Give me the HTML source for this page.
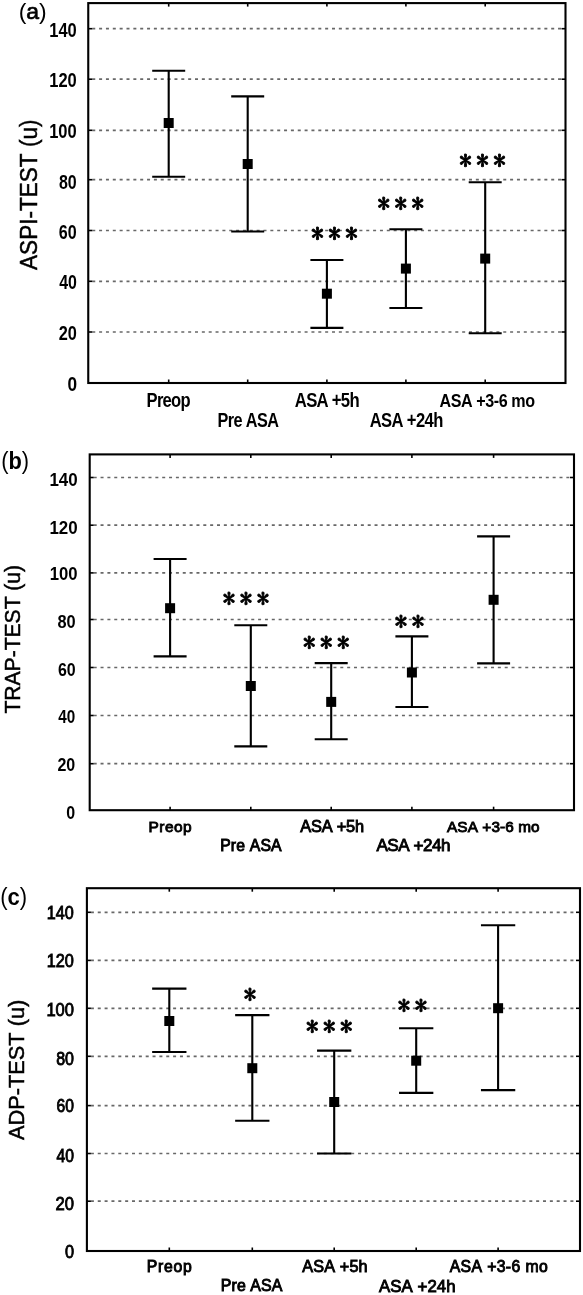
<!DOCTYPE html>
<html><head><meta charset="utf-8"><title>Figure</title><style>
*{margin:0;padding:0}
html,body{width:583px;height:1295px;background:#fff;overflow:hidden}
svg{display:block}
.gr{stroke:#686868;stroke-width:1.7;stroke-dasharray:3 3.85}
.tk{stroke:#000;stroke-width:1.6}
.fr{fill:none;stroke:#000;stroke-width:2.1}
.eb{fill:none;stroke:#000;stroke-width:2.1}
.tx text{font-family:"Liberation Sans",sans-serif;fill:#000;font-kerning:none}
.md{stroke:#000;stroke-width:0.9}
.yl{stroke:#000;stroke-width:0.5}
.as{font-family:"IPAGothic",sans-serif;font-size:25px;fill:#000;stroke:#000;stroke-width:0.9;stroke-linejoin:round}
</style></head><body>
<svg width="583" height="1295" viewBox="0 0 583 1295">
<rect width="583" height="1295" fill="#fff"/>
<g><line x1="92.25" y1="28.70" x2="561.50" y2="28.70" class="gr"/><line x1="88.25" y1="28.70" x2="92.25" y2="28.70" class="tk"/><line x1="561.50" y1="28.70" x2="565.50" y2="28.70" class="tk"/><line x1="92.25" y1="79.20" x2="561.50" y2="79.20" class="gr"/><line x1="88.25" y1="79.20" x2="92.25" y2="79.20" class="tk"/><line x1="561.50" y1="79.20" x2="565.50" y2="79.20" class="tk"/><line x1="92.25" y1="130.30" x2="561.50" y2="130.30" class="gr"/><line x1="88.25" y1="130.30" x2="92.25" y2="130.30" class="tk"/><line x1="561.50" y1="130.30" x2="565.50" y2="130.30" class="tk"/><line x1="92.25" y1="179.70" x2="561.50" y2="179.70" class="gr"/><line x1="88.25" y1="179.70" x2="92.25" y2="179.70" class="tk"/><line x1="561.50" y1="179.70" x2="565.50" y2="179.70" class="tk"/><line x1="92.25" y1="230.50" x2="561.50" y2="230.50" class="gr"/><line x1="88.25" y1="230.50" x2="92.25" y2="230.50" class="tk"/><line x1="561.50" y1="230.50" x2="565.50" y2="230.50" class="tk"/><line x1="92.25" y1="281.30" x2="561.50" y2="281.30" class="gr"/><line x1="88.25" y1="281.30" x2="92.25" y2="281.30" class="tk"/><line x1="561.50" y1="281.30" x2="565.50" y2="281.30" class="tk"/><line x1="92.25" y1="332.00" x2="561.50" y2="332.00" class="gr"/><line x1="88.25" y1="332.00" x2="92.25" y2="332.00" class="tk"/><line x1="561.50" y1="332.00" x2="565.50" y2="332.00" class="tk"/><line x1="168.70" y1="3.10" x2="168.70" y2="6.60" class="tk"/><line x1="168.70" y1="383.00" x2="168.70" y2="379.50" class="tk"/><line x1="247.70" y1="3.10" x2="247.70" y2="6.60" class="tk"/><line x1="247.70" y1="383.00" x2="247.70" y2="379.50" class="tk"/><line x1="326.90" y1="3.10" x2="326.90" y2="6.60" class="tk"/><line x1="326.90" y1="383.00" x2="326.90" y2="379.50" class="tk"/><line x1="405.90" y1="3.10" x2="405.90" y2="6.60" class="tk"/><line x1="405.90" y1="383.00" x2="405.90" y2="379.50" class="tk"/><line x1="485.20" y1="3.10" x2="485.20" y2="6.60" class="tk"/><line x1="485.20" y1="383.00" x2="485.20" y2="379.50" class="tk"/><rect x="88.25" y="3.10" width="477.25" height="379.90" class="fr"/><path d="M168.70 70.80V176.70M152.20 70.80H185.20M152.20 176.70H185.20" class="eb"/><rect x="163.70" y="118.00" width="10.00" height="10.00"/><path d="M247.70 96.40V231.50M231.20 96.40H264.20M231.20 231.50H264.20" class="eb"/><rect x="242.70" y="159.00" width="10.00" height="10.00"/><path d="M326.90 260.00V327.90M310.40 260.00H343.40M310.40 327.90H343.40" class="eb"/><rect x="321.90" y="288.70" width="10.00" height="10.00"/><path d="M405.90 229.20V308.00M389.40 229.20H422.40M389.40 308.00H422.40" class="eb"/><rect x="400.90" y="263.60" width="10.00" height="10.00"/><path d="M485.20 182.30V333.20M468.70 182.30H501.70M468.70 333.20H501.70" class="eb"/><rect x="480.20" y="253.60" width="10.00" height="10.00"/></g>
<g class="tx"><text x="67.52" y="391.10" font-size="20.35" textLength="9.59" lengthAdjust="spacingAndGlyphs" font-weight="bold">0</text><text x="58.73" y="340.30" font-size="20.35" textLength="18.13" lengthAdjust="spacingAndGlyphs" font-weight="bold">20</text><text x="59.26" y="289.10" font-size="20.35" textLength="17.69" lengthAdjust="spacingAndGlyphs" font-weight="bold">40</text><text x="58.81" y="239.20" font-size="20.35" textLength="17.85" lengthAdjust="spacingAndGlyphs" font-weight="bold">60</text><text x="58.89" y="189.00" font-size="20.35" textLength="17.76" lengthAdjust="spacingAndGlyphs" font-weight="bold">80</text><text x="49.16" y="138.10" font-size="20.35" textLength="27.52" lengthAdjust="spacingAndGlyphs" font-weight="bold">100</text><text x="49.26" y="87.30" font-size="20.35" textLength="27.52" lengthAdjust="spacingAndGlyphs" font-weight="bold">120</text><text x="49.26" y="37.20" font-size="20.35" textLength="27.52" lengthAdjust="spacingAndGlyphs" font-weight="bold">140</text><text transform="scale(0.8400 1)" x="174.51" y="407.30" font-size="19.77" textLength="52.37" lengthAdjust="spacing" font-weight="bold">Preop</text><text transform="scale(0.8400 1)" x="258.83" y="426.80" font-size="19.33" textLength="73.35" lengthAdjust="spacing" font-weight="bold">Pre ASA</text><text transform="scale(0.8400 1)" x="350.93" y="407.20" font-size="19.91" textLength="77.21" lengthAdjust="spacing" font-weight="bold">ASA +5h</text><text transform="scale(0.8400 1)" x="440.10" y="426.70" font-size="19.77" textLength="87.67" lengthAdjust="spacing" font-weight="bold">ASA +24h</text><text transform="scale(0.8400 1)" x="523.33" y="407.50" font-size="19.19" textLength="113.73" lengthAdjust="spacing" font-weight="bold">ASA +3-6 mo</text><text transform="translate(37.25 269.94) rotate(-90)" x="0" y="0" font-size="24.64" textLength="150.44" lengthAdjust="spacingAndGlyphs" class="yl">ASPI-TEST (u)</text><text x="18.68" y="18.60" font-size="22.80" textLength="28.05" lengthAdjust="spacingAndGlyphs">(<tspan stroke="#000" stroke-width="0.7">a</tspan>)</text></g>
<g><text x="317.55 334.55 351.55" y="242.65" class="as" text-anchor="middle">***</text><text x="383.70 400.70 417.70" y="213.35" class="as" text-anchor="middle">***</text><text x="465.60 482.60 499.60" y="169.95" class="as" text-anchor="middle">***</text></g>
<g><line x1="93.70" y1="477.50" x2="570.00" y2="477.50" class="gr"/><line x1="89.70" y1="477.50" x2="93.70" y2="477.50" class="tk"/><line x1="570.00" y1="477.50" x2="574.00" y2="477.50" class="tk"/><line x1="93.70" y1="525.20" x2="570.00" y2="525.20" class="gr"/><line x1="89.70" y1="525.20" x2="93.70" y2="525.20" class="tk"/><line x1="570.00" y1="525.20" x2="574.00" y2="525.20" class="tk"/><line x1="93.70" y1="572.90" x2="570.00" y2="572.90" class="gr"/><line x1="89.70" y1="572.90" x2="93.70" y2="572.90" class="tk"/><line x1="570.00" y1="572.90" x2="574.00" y2="572.90" class="tk"/><line x1="93.70" y1="619.50" x2="570.00" y2="619.50" class="gr"/><line x1="89.70" y1="619.50" x2="93.70" y2="619.50" class="tk"/><line x1="570.00" y1="619.50" x2="574.00" y2="619.50" class="tk"/><line x1="93.70" y1="667.50" x2="570.00" y2="667.50" class="gr"/><line x1="89.70" y1="667.50" x2="93.70" y2="667.50" class="tk"/><line x1="570.00" y1="667.50" x2="574.00" y2="667.50" class="tk"/><line x1="93.70" y1="715.50" x2="570.00" y2="715.50" class="gr"/><line x1="89.70" y1="715.50" x2="93.70" y2="715.50" class="tk"/><line x1="570.00" y1="715.50" x2="574.00" y2="715.50" class="tk"/><line x1="93.70" y1="763.70" x2="570.00" y2="763.70" class="gr"/><line x1="89.70" y1="763.70" x2="93.70" y2="763.70" class="tk"/><line x1="570.00" y1="763.70" x2="574.00" y2="763.70" class="tk"/><line x1="170.10" y1="454.40" x2="170.10" y2="457.90" class="tk"/><line x1="170.10" y1="810.20" x2="170.10" y2="806.70" class="tk"/><line x1="250.80" y1="454.40" x2="250.80" y2="457.90" class="tk"/><line x1="250.80" y1="810.20" x2="250.80" y2="806.70" class="tk"/><line x1="331.20" y1="454.40" x2="331.20" y2="457.90" class="tk"/><line x1="331.20" y1="810.20" x2="331.20" y2="806.70" class="tk"/><line x1="411.90" y1="454.40" x2="411.90" y2="457.90" class="tk"/><line x1="411.90" y1="810.20" x2="411.90" y2="806.70" class="tk"/><line x1="493.60" y1="454.40" x2="493.60" y2="457.90" class="tk"/><line x1="493.60" y1="810.20" x2="493.60" y2="806.70" class="tk"/><rect x="89.70" y="454.40" width="484.30" height="355.80" class="fr"/><path d="M170.10 559.00V656.40M153.60 559.00H186.60M153.60 656.40H186.60" class="eb"/><rect x="165.10" y="603.20" width="10.00" height="10.00"/><path d="M250.80 625.20V746.40M234.30 625.20H267.30M234.30 746.40H267.30" class="eb"/><rect x="245.80" y="681.00" width="10.00" height="10.00"/><path d="M331.20 663.10V739.30M314.70 663.10H347.70M314.70 739.30H347.70" class="eb"/><rect x="326.20" y="696.90" width="10.00" height="10.00"/><path d="M411.90 636.40V707.00M395.40 636.40H428.40M395.40 707.00H428.40" class="eb"/><rect x="406.90" y="667.50" width="10.00" height="10.00"/><path d="M493.60 536.40V663.40M477.10 536.40H510.10M477.10 663.40H510.10" class="eb"/><rect x="488.60" y="594.80" width="10.00" height="10.00"/></g>
<g class="tx"><text x="66.37" y="818.70" font-size="18.90" textLength="8.89" lengthAdjust="spacingAndGlyphs" font-weight="bold">0</text><text x="57.44" y="770.80" font-size="18.90" textLength="17.81" lengthAdjust="spacingAndGlyphs" font-weight="bold">20</text><text x="58.27" y="722.50" font-size="18.90" textLength="16.96" lengthAdjust="spacingAndGlyphs" font-weight="bold">40</text><text x="57.92" y="676.20" font-size="18.90" textLength="17.74" lengthAdjust="spacingAndGlyphs" font-weight="bold">60</text><text x="57.48" y="628.40" font-size="18.90" textLength="18.19" lengthAdjust="spacingAndGlyphs" font-weight="bold">80</text><text x="49.75" y="580.10" font-size="18.90" textLength="27.84" lengthAdjust="spacingAndGlyphs" font-weight="bold">100</text><text x="49.43" y="533.50" font-size="18.90" textLength="28.26" lengthAdjust="spacingAndGlyphs" font-weight="bold">120</text><text x="49.43" y="485.50" font-size="18.90" textLength="28.26" lengthAdjust="spacingAndGlyphs" font-weight="bold">140</text><text x="148.48" y="832.27" font-size="15.48" textLength="43.22" lengthAdjust="spacing" class="md">Preop</text><text x="220.16" y="850.57" font-size="15.77" textLength="61.42" lengthAdjust="spacing" class="md">Pre ASA</text><text x="300.32" y="832.38" font-size="16.35" textLength="63.69" lengthAdjust="spacing" class="md">ASA +5h</text><text x="376.42" y="851.27" font-size="17.08" textLength="74.04" lengthAdjust="spacing" class="md">ASA +24h</text><text x="447.02" y="832.17" font-size="15.33" textLength="92.57" lengthAdjust="spacing" class="md">ASA +3-6 mo</text><text transform="translate(20.40 713.57) rotate(-90)" x="0" y="0" font-size="21.51" textLength="148.68" lengthAdjust="spacingAndGlyphs" class="yl">TRAP-TEST (u)</text><text x="1.24" y="468.60" font-size="23.00" textLength="27.91" lengthAdjust="spacingAndGlyphs">(<tspan font-weight="bold">b</tspan>)</text></g>
<g><text x="228.90 245.90 262.90" y="607.95" class="as" text-anchor="middle">***</text><text x="309.35 326.35 343.35" y="652.05" class="as" text-anchor="middle">***</text><text x="401.10 418.10" y="631.05" class="as" text-anchor="middle">**</text></g>
<g><line x1="90.90" y1="912.30" x2="576.00" y2="912.30" class="gr"/><line x1="86.90" y1="912.30" x2="90.90" y2="912.30" class="tk"/><line x1="576.00" y1="912.30" x2="580.00" y2="912.30" class="tk"/><line x1="90.90" y1="960.40" x2="576.00" y2="960.40" class="gr"/><line x1="86.90" y1="960.40" x2="90.90" y2="960.40" class="tk"/><line x1="576.00" y1="960.40" x2="580.00" y2="960.40" class="tk"/><line x1="90.90" y1="1008.30" x2="576.00" y2="1008.30" class="gr"/><line x1="86.90" y1="1008.30" x2="90.90" y2="1008.30" class="tk"/><line x1="576.00" y1="1008.30" x2="580.00" y2="1008.30" class="tk"/><line x1="90.90" y1="1056.30" x2="576.00" y2="1056.30" class="gr"/><line x1="86.90" y1="1056.30" x2="90.90" y2="1056.30" class="tk"/><line x1="576.00" y1="1056.30" x2="580.00" y2="1056.30" class="tk"/><line x1="90.90" y1="1105.60" x2="576.00" y2="1105.60" class="gr"/><line x1="86.90" y1="1105.60" x2="90.90" y2="1105.60" class="tk"/><line x1="576.00" y1="1105.60" x2="580.00" y2="1105.60" class="tk"/><line x1="90.90" y1="1153.50" x2="576.00" y2="1153.50" class="gr"/><line x1="86.90" y1="1153.50" x2="90.90" y2="1153.50" class="tk"/><line x1="576.00" y1="1153.50" x2="580.00" y2="1153.50" class="tk"/><line x1="90.90" y1="1201.20" x2="576.00" y2="1201.20" class="gr"/><line x1="86.90" y1="1201.20" x2="90.90" y2="1201.20" class="tk"/><line x1="576.00" y1="1201.20" x2="580.00" y2="1201.20" class="tk"/><line x1="169.30" y1="888.20" x2="169.30" y2="891.70" class="tk"/><line x1="169.30" y1="1251.00" x2="169.30" y2="1247.50" class="tk"/><line x1="252.30" y1="888.20" x2="252.30" y2="891.70" class="tk"/><line x1="252.30" y1="1251.00" x2="252.30" y2="1247.50" class="tk"/><line x1="334.20" y1="888.20" x2="334.20" y2="891.70" class="tk"/><line x1="334.20" y1="1251.00" x2="334.20" y2="1247.50" class="tk"/><line x1="416.20" y1="888.20" x2="416.20" y2="891.70" class="tk"/><line x1="416.20" y1="1251.00" x2="416.20" y2="1247.50" class="tk"/><line x1="498.10" y1="888.20" x2="498.10" y2="891.70" class="tk"/><line x1="498.10" y1="1251.00" x2="498.10" y2="1247.50" class="tk"/><rect x="86.90" y="888.20" width="493.10" height="362.80" class="fr"/><path d="M169.30 988.60V1052.00M152.15 988.60H186.45M152.15 1052.00H186.45" class="eb"/><rect x="164.30" y="1016.00" width="10.00" height="10.00"/><path d="M252.30 1015.10V1120.80M235.15 1015.10H269.45M235.15 1120.80H269.45" class="eb"/><rect x="247.30" y="1063.20" width="10.00" height="10.00"/><path d="M334.20 1050.60V1153.50M317.05 1050.60H351.35M317.05 1153.50H351.35" class="eb"/><rect x="329.20" y="1097.00" width="10.00" height="10.00"/><path d="M416.20 1028.20V1092.90M399.05 1028.20H433.35M399.05 1092.90H433.35" class="eb"/><rect x="411.20" y="1055.70" width="10.00" height="10.00"/><path d="M498.10 925.20V1090.10M480.95 925.20H515.25M480.95 1090.10H515.25" class="eb"/><rect x="493.10" y="1003.20" width="10.00" height="10.00"/></g>
<g class="tx"><text x="64.91" y="1257.98" font-size="18.24" textLength="9.07" lengthAdjust="spacingAndGlyphs" class="md">0</text><text x="55.51" y="1210.08" font-size="18.24" textLength="18.48" lengthAdjust="spacingAndGlyphs" class="md">20</text><text x="56.49" y="1161.78" font-size="18.24" textLength="17.47" lengthAdjust="spacingAndGlyphs" class="md">40</text><text x="56.56" y="1111.98" font-size="18.24" textLength="17.41" lengthAdjust="spacingAndGlyphs" class="md">60</text><text x="56.15" y="1064.67" font-size="18.24" textLength="17.82" lengthAdjust="spacingAndGlyphs" class="md">80</text><text x="46.39" y="1016.37" font-size="18.24" textLength="27.61" lengthAdjust="spacingAndGlyphs" class="md">100</text><text x="46.71" y="966.87" font-size="18.24" textLength="27.18" lengthAdjust="spacingAndGlyphs" class="md">120</text><text x="46.82" y="918.97" font-size="18.24" textLength="26.96" lengthAdjust="spacingAndGlyphs" class="md">140</text><text x="146.86" y="1271.78" font-size="15.77" textLength="44.86" lengthAdjust="spacing" class="md">Preop</text><text x="220.84" y="1291.08" font-size="15.92" textLength="61.44" lengthAdjust="spacing" class="md">Pre ASA</text><text x="302.32" y="1271.88" font-size="16.21" textLength="65.28" lengthAdjust="spacing" class="md">ASA +5h</text><text x="379.02" y="1292.08" font-size="16.79" textLength="76.52" lengthAdjust="spacing" class="md">ASA +24h</text><text x="449.72" y="1271.88" font-size="15.77" textLength="97.99" lengthAdjust="spacing" class="md">ASA +3-6 mo</text><text transform="translate(24.10 1140.04) rotate(-90)" x="0" y="0" font-size="21.51" textLength="140.29" lengthAdjust="spacingAndGlyphs" class="yl">ADP-TEST (u)</text><text x="0.13" y="904.80" font-size="23.00" textLength="26.93" lengthAdjust="spacingAndGlyphs">(<tspan font-weight="bold">c</tspan>)</text></g>
<g><text x="250.00" y="1003.65" class="as" text-anchor="middle">*</text><text x="312.15 329.15 346.15" y="1036.25" class="as" text-anchor="middle">***</text><text x="404.10 421.10" y="1015.15" class="as" text-anchor="middle">**</text></g>
</svg>
</body></html>
